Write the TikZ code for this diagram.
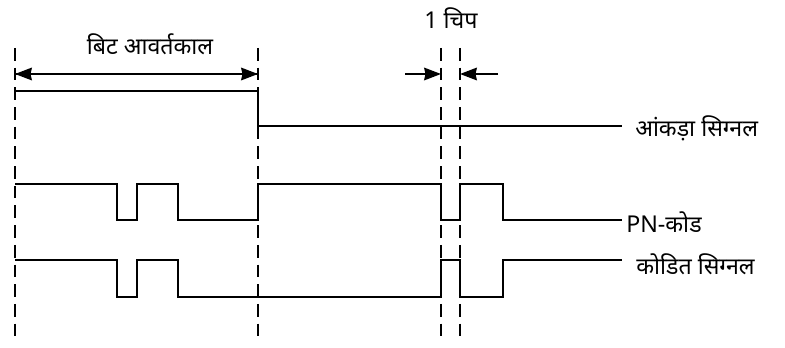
\documentclass[tikz,border=0pt]{standalone}
\usepackage{fontspec}
\newfontfamily\devfont[Script=Devanagari]{Noto Sans}
\usepackage{tikz}
\usetikzlibrary{positioning, arrows.meta}

\begin{document}
\begin{tikzpicture}[
    x=0.025cm, y=-0.025cm,
    sig/.style={line width=1.4pt, line join=miter},
    guide/.style={line width=1.2pt, dash pattern=on 9pt off 5pt},
    lbl/.style={font=\devfont\fontsize{16.5}{18}\selectfont, inner sep=0pt},
    dim/.style={-{Stealth[length=12pt, width=9pt, inset=1pt]}, line width=1.2pt}
]
\useasboundingbox (0,0) rectangle (785,348);

% dashed time marks
\foreach \name/\x in {ta/15, tb/258, tc/441, td/460} {
    \coordinate (\name) at (\x,74);
    \draw[guide] (\x,48) -- (\x,342);
}

% bit period
\node[lbl] (bitlbl) at (150,44) {बिट आवर्तकाल};
\draw[dim] (tb) -- (ta);
\draw[dim] (ta) -- (tb);

% chip width
\node[lbl] (chiplbl) at (451,18) {1 चिप};
\coordinate (cl) at (405,74);
\coordinate (cr) at (498,74);
\draw[dim] (cl) -- (tc);
\draw[dim] (cr) -- (td);

% data signal
\draw[sig] (15,91) -- (258,91) -- (258,126) -- (622,126);
\node[lbl, anchor=west] (datalbl) at (635,128) {आंकड़ा सिग्नल};

% PN code
\draw[sig] (15,184) -- (117,184) -- (117,220) -- (137,220) -- (137,184)
    -- (178,184) -- (178,220) -- (258,220) -- (258,184) -- (441,184)
    -- (441,220) -- (460,220) -- (460,184) -- (503,184) -- (503,220) -- (622,220);
\node[lbl, anchor=west] (pnlbl) at (626,222) {PN-कोड};

% coded signal
\draw[sig] (15,260) -- (117,260) -- (117,297) -- (137,297) -- (137,260)
    -- (178,260) -- (178,297) -- (441,297) -- (441,260) -- (460,260)
    -- (460,297) -- (503,297) -- (503,260) -- (622,260);
\node[lbl, anchor=west] (codedlbl) at (636,264) {कोडित सिग्नल};

\end{tikzpicture}
\end{document}
